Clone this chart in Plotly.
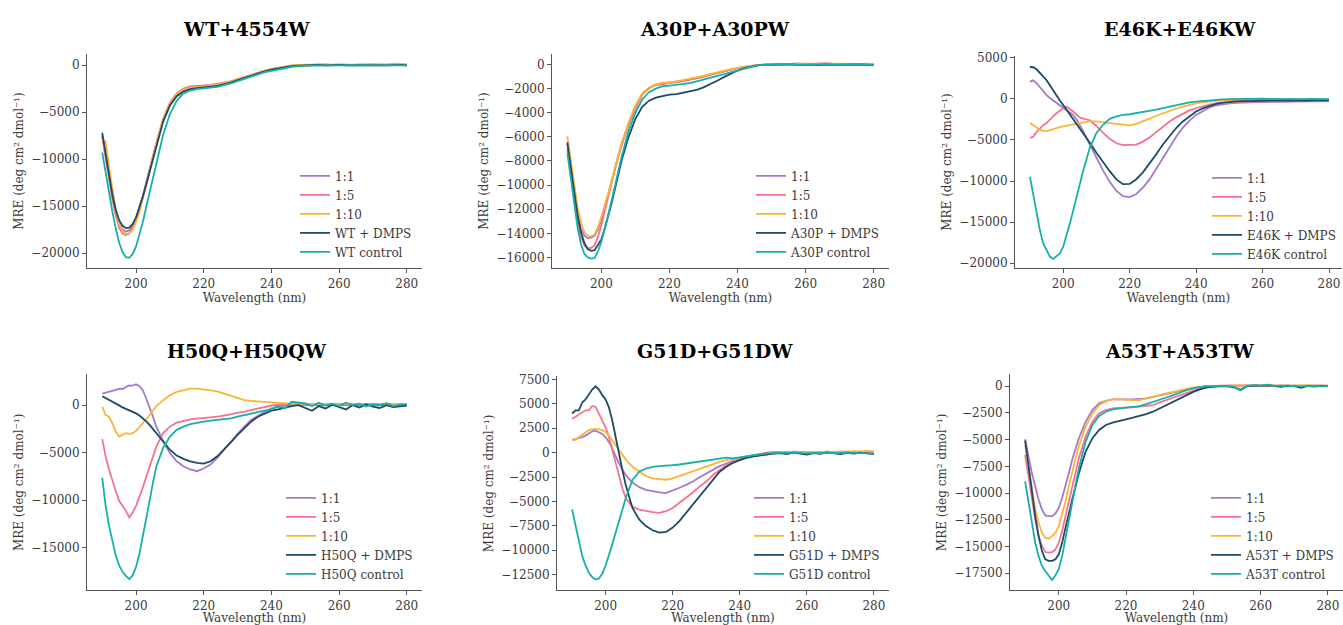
import plotly.graph_objects as go

FIG_W, FIG_H = 1343, 625

# Wavelength grid (nm): 1 nm steps through the far-UV minimum, 2 nm afterwards
WAVELENGTH = [190, 191, 192, 193, 194, 195, 196, 197, 198, 199, 200, 201, 202, 203, 204, 205, 206,
              208, 210, 212, 214, 216, 218, 220, 222, 224, 226, 228, 230, 232, 234, 236, 238, 240,
              242, 244, 246, 248, 250,
              252, 254, 256, 258, 260, 262, 264, 266, 268, 270, 272, 274, 276, 278, 280]

# ---- WT ----
wt_11 = [-7500, -9800, -12000, -14000, -15700, -16900, -17500, -17700, -17600, -17100, -16300, -15200, -13900, -12500, -11100, -9700, -8300,
         -5900, -4200, -3200, -2700, -2450, -2350, -2300, -2220, -2130, -2000, -1820, -1580, -1330, -1080, -840, -640, -470, -320, -190, -90, -40, -10,
         20, -10, 30, 0, 40, 10, -20, 30, 0, 50, 20, -10, 30, 10, 0]
wt_15 = [-7600, -9900, -12200, -14300, -16000, -17300, -17900, -18100, -17900, -17300, -16400, -15300, -14000, -12600, -11100, -9600, -8200,
         -5700, -4000, -3000, -2500, -2250, -2200, -2200, -2100, -2000, -1880, -1700, -1480, -1250, -1020, -800, -600, -430, -280, -150, -60, -10, 20,
         40, 10, 50, 20, 60, 30, 0, 50, 20, 60, 40, 10, 50, 30, 20]
wt_110 = [-7900, -8100, -10800, -13300, -15400, -16900, -17700, -18000, -17900, -17500, -16700, -15600, -14300, -12800, -11300, -9800, -8300,
          -5800, -4100, -3100, -2600, -2400, -2350, -2300, -2200, -2080, -1950, -1760, -1520, -1270, -1020, -780, -580, -400, -250, -120, -20, 40, 60,
          80, 50, 100, 60, 110, 80, 50, 120, 90, 140, 110, 80, 150, 120, 100]
wt_dmps = [-7200, -9500, -11800, -13800, -15400, -16500, -17100, -17350, -17300, -16900, -16200, -15200, -14000, -12700, -11300, -9900, -8500,
           -6000, -4300, -3300, -2800, -2550, -2450, -2400, -2300, -2200, -2050, -1850, -1600, -1350, -1100, -850, -650, -480, -330, -200, -100, -50, -20,
           0, 30, -20, 10, 40, -10, 20, 0, -30, 30, 10, -20, 20, 40, -30]
wt_ctrl = [-9300, -11500, -13600, -15600, -17400, -18900, -19900, -20450, -20500, -20100, -19300, -18100, -16700, -15100, -13500, -11900, -10300,
           -7400, -5200, -3800, -3000, -2700, -2550, -2500, -2400, -2300, -2150, -1950, -1700, -1450, -1200, -950, -750, -600, -450, -300, -180, -100, -60,
           -40, -30, -50, -20, -10, -40, 0, -30, -20, -50, -10, -30, 0, -20, -50]

# ---- A30P ----
a30_11 = [-6600, -8700, -10700, -12400, -13600, -14200, -14400, -14350, -14200, -13700, -12900, -11900, -10800, -9700, -8600, -7600, -6700,
          -5000, -3600, -2500, -1950, -1700, -1550, -1500, -1450, -1350, -1250, -1150, -1000, -850, -700, -550, -420, -300, -200, -110, -50, -10, 10,
          30, 10, 40, 60, 20, 50, 30, 70, 40, 20, 50, 30, 10, 40, 20]
a30_15 = [-7000, -9100, -11200, -13000, -14300, -15000, -15250, -15200, -15000, -14300, -13300, -12200, -11000, -9800, -8600, -7500, -6500,
          -4900, -3600, -2500, -1950, -1700, -1600, -1550, -1480, -1380, -1280, -1160, -1020, -870, -720, -570, -430, -310, -200, -110, -50, -10, 10,
          40, 20, 60, 80, 40, 70, 50, 90, 60, 40, 70, 50, 30, 60, 40]
a30_110 = [-5950, -8000, -10000, -11800, -13100, -13900, -14200, -14250, -14100, -13500, -12600, -11700, -10700, -9600, -8500, -7500, -6600,
           -4800, -3400, -2400, -1900, -1650, -1500, -1500, -1400, -1300, -1200, -1100, -950, -800, -650, -500, -380, -280, -180, -100, -30, 0, 20,
           40, 60, 30, 50, 70, 40, 60, 30, 50, 70, 40, 60, 80, 50, 40]
a30_dmps = [-6450, -8600, -10700, -12500, -13900, -14800, -15300, -15450, -15400, -15000, -14500, -13600, -12600, -11500, -10300, -9100, -7900,
            -6000, -4500, -3500, -3000, -2750, -2600, -2500, -2450, -2350, -2250, -2100, -1900, -1650, -1350, -1050, -750, -500, -300, -160, -70, -30, -10,
            0, -20, 10, -30, 0, -20, -40, 0, -30, -10, -40, -20, 0, -30, -60]
a30_ctrl = [-7300, -9500, -11600, -13500, -14900, -15700, -16000, -16100, -16050, -15500, -14700, -13700, -12500, -11300, -10000, -8800, -7600,
            -5500, -4000, -2900, -2300, -2000, -1800, -1750, -1700, -1650, -1550, -1400, -1250, -1100, -950, -800, -600, -450, -300, -150, -60, -20, 0,
            10, 0, 20, -10, 0, 10, -20, 0, 10, -10, 0, 20, -10, 0, -30]

# ---- E46K ----
e46_11 = [2100, 2250, 1900, 1400, 950, 460, 100, -200, -500, -800, -1140, -1400, -1700, -1950, -2500, -3150, -3900,
          -5560, -7160, -8700, -10100, -11200, -11850, -11950, -11580, -10800, -9800, -8500, -7160, -5800, -4600, -3500, -2650, -1950, -1450, -1050, -800, -650, -540,
          -480, -430, -400, -380, -350, -370, -330, -300, -340, -310, -280, -300, -270, -290, -260]
e46_15 = [-4760, -4600, -4000, -3550, -3200, -2950, -2500, -2100, -1750, -1400, -1140, -940, -1200, -1540, -1900, -2260, -2400,
          -2600, -3300, -4150, -4850, -5400, -5640, -5640, -5560, -5200, -4700, -4050, -3350, -2750, -2250, -1800, -1400, -1140, -900, -700, -560, -470, -420,
          -380, -360, -340, -330, -320, -300, -310, -290, -280, -300, -270, -260, -280, -250, -240]
e46_110 = [-2950, -3200, -3550, -3750, -3900, -3950, -3800, -3650, -3550, -3450, -3350, -3250, -3150, -3050, -3000, -2950, -2850,
           -2700, -2750, -2850, -3000, -3100, -3200, -3230, -3050, -2750, -2400, -2050, -1750, -1450, -1200, -950, -720, -540, -400, -300, -230, -170, -140,
           -120, -100, -110, -90, -100, -80, -90, -70, -100, -80, -60, -90, -70, -80, -60]
e46_dmps = [3880, 3850, 3600, 3200, 2750, 2270, 1650, 1000, 400, -200, -740, -1300, -1850, -2450, -3000, -3550, -4150,
            -5350, -6560, -7700, -8800, -9800, -10380, -10350, -9780, -8950, -7900, -6750, -5560, -4500, -3550, -2750, -2100, -1540, -1150, -850, -600, -450, -340,
            -300, -280, -250, -240, -230, -220, -210, -200, -220, -190, -180, -200, -170, -190, -180]
e46_ctrl = [-9490, -11800, -13990, -16000, -17600, -18500, -19200, -19480, -19100, -18800, -18000, -16700, -15190, -13600, -11980, -10350, -8770,
            -5960, -4150, -3150, -2430, -2140, -1950, -1870, -1750, -1620, -1500, -1320, -1140, -950, -760, -560, -430, -340, -250, -170, -100, -50, -20,
            0, -30, 20, -10, 30, 0, -20, 20, -10, 10, -30, 0, 20, -10, -30]

# ---- H50Q ----
h50_11 = [1220, 1300, 1400, 1490, 1600, 1740, 1700, 1910, 2080, 2050, 2190, 1980, 1560, 700, -170, -1220, -2260,
          -3820, -5030, -5910, -6430, -6770, -6950, -6670, -6250, -5560, -4690, -3820, -3020, -2260, -1560, -1150, -700, -350, -170, -50, 0, 30, 10,
          20, -10, 30, 0, 20, -20, 10, 30, -10, 0, 20, -10, 10, 30, 0]
h50_15 = [-3580, -5380, -6770, -7990, -9030, -10070, -10600, -11120, -11810, -11290, -10600, -9720, -8680, -7530, -6430, -5310, -4340,
          -2950, -2260, -1840, -1630, -1490, -1420, -1390, -1280, -1220, -1110, -970, -800, -700, -520, -350, -170, -40, 20, 50, 70, 80, 90,
          100, 80, 110, 90, 120, 100, 80, 110, 90, 120, 100, 90, 110, 80, 100]
h50_110 = [-170, -1040, -1220, -1910, -2780, -3300, -3130, -2950, -3020, -2950, -2710, -2330, -1910, -1490, -1040, -520, -100,
           520, 1040, 1390, 1560, 1740, 1740, 1670, 1560, 1450, 1220, 1040, 800, 520, 450, 420, 350, 280, 240, 170, 150, 140, 130,
           120, 140, 110, 130, 120, 100, 130, 110, 120, 100, 110, 130, 100, 120, 110]
h50_dmps = [940, 760, 590, 380, 170, -30, -240, -400, -520, -700, -870, -1100, -1390, -1700, -2080, -2500, -2950,
            -3820, -4690, -5310, -5660, -5910, -6080, -6150, -5910, -5380, -4690, -3930, -3130, -2430, -1740, -1220, -870, -590, -460, -240, -100, 0, -300,
            -600, -100, -350, 50, -200, -450, 0, -250, 100, -150, -300, 0, -200, -100, -50]
h50_ctrl = [-7640, -10600, -12680, -14420, -15810, -16850, -17540, -17960, -18310, -17890, -17020, -15630, -13890, -11980, -10070, -8160, -6430,
            -4510, -3300, -2600, -2260, -2010, -1840, -1740, -1630, -1560, -1490, -1390, -1220, -1040, -870, -730, -590, -460, -100, -350, 350, 230, 170,
            -100, 250, -50, 150, -100, 250, 0, 150, -150, 100, 0, 200, -100, 50, 100]

# ---- G51D ----
g51_11 = [1310, 1410, 1450, 1570, 1740, 1980, 2180, 2240, 2080, 1910, 1570, 1070, 400, -380, -1120, -1720, -2300,
          -3070, -3540, -3810, -3980, -4080, -4150, -3900, -3600, -3310, -2970, -2530, -2130, -1720, -1390, -1120, -850, -720, -520, -390, -280, -170, -100,
          -50, 0, -80, 20, -40, 0, 30, -30, 10, -20, 40, 0, 20, -10, -60]
g51_15 = [3430, 3660, 3930, 4100, 4330, 4330, 4770, 4670, 3930, 3260, 2580, 1570, 230, -1120, -2470, -3650, -4660,
          -5560, -5830, -6000, -6100, -6170, -6000, -5670, -5160, -4660, -4080, -3480, -2970, -2300, -1790, -1290, -950, -620, -450, -280, -110, 0, 50,
          80, 30, 100, 60, 20, 80, 40, 100, 60, 30, 90, 50, 20, 60, 40]
g51_110 = [1240, 1310, 1570, 1840, 2080, 2310, 2410, 2410, 2410, 2310, 2080, 1740, 1240, 730, 230, -280, -720,
           -1460, -1960, -2400, -2640, -2730, -2780, -2640, -2400, -2130, -1860, -1630, -1390, -1190, -950, -780, -620, -520, -390, -280, -170, -110, -50,
           0, 40, 20, 60, 30, 80, 50, 100, 70, 120, 90, 140, 110, 160, 120]
g51_dmps = [4000, 4330, 4330, 5110, 5440, 5950, 6450, 6790, 6450, 5880, 5440, 4600, 3260, 1570, -280, -1790, -3310,
            -5670, -6840, -7520, -7950, -8190, -8120, -7680, -7010, -6170, -5330, -4490, -3650, -2800, -1960, -1460, -1050, -780, -520, -390, -280, -150, -100,
            -50, -150, 0, -100, -200, -50, -120, 20, -80, -150, -30, -100, 0, -60, -150]
g51_ctrl = [-5830, -7520, -9200, -10550, -11560, -12300, -12740, -13000, -12900, -12400, -11560, -10550, -9370, -8190, -7010, -5830, -4660,
            -2800, -1960, -1630, -1460, -1390, -1360, -1290, -1220, -1120, -1050, -950, -850, -720, -650, -520, -600, -500, -400, -300, -150, -80, -50,
            -20, -60, 0, -40, -80, -20, -50, 0, -70, -30, 10, -40, -60, -20, -100]

# ---- A53T ----
a53_11 = [-4970, -6580, -8130, -9370, -10610, -11540, -12100, -12160, -12160, -11920, -11390, -10460, -9370, -8130, -6890, -5800, -4870,
          -3320, -2230, -1610, -1370, -1240, -1210, -1240, -1240, -1210, -1150, -1000, -840, -680, -530, -430, -300, -180, -60, 0, 20, 40, 30,
          50, 30, 60, 40, 70, 50, 30, 60, 40, 20, 50, 30, 60, 40, 30]
a53_15 = [-6420, -8440, -10610, -12480, -14030, -14960, -15520, -15580, -15520, -15270, -14650, -13560, -12160, -10770, -9370, -7980, -6730,
          -4720, -3320, -2540, -2230, -2080, -2020, -1990, -1990, -1920, -1860, -1770, -1520, -1300, -1060, -840, -620, -370, -210, -100, -20, 20, 40,
          60, 40, 70, 50, 80, 60, 40, 70, 50, 30, 60, 40, 70, 50, 40]
a53_110 = [-5490, -7510, -9680, -11540, -12780, -13710, -14180, -14270, -14030, -13710, -13100, -12010, -10770, -9370, -7980, -6730, -5590,
           -3790, -2540, -1770, -1400, -1240, -1240, -1300, -1300, -1300, -1180, -1000, -810, -680, -530, -370, -250, -120, -60, 0, 30, 50, 40,
           60, 50, 70, 40, 60, 80, 50, 70, 40, 60, 50, 70, 40, 60, 50]
a53_dmps = [-5090, -7510, -9990, -12160, -14030, -15420, -16200, -16350, -16350, -16200, -15730, -14650, -13250, -11850, -10610, -9370, -8130,
            -6120, -4870, -4100, -3630, -3420, -3230, -3100, -2950, -2790, -2610, -2390, -2080, -1770, -1460, -1150, -840, -530, -300, -120, -50, -20, 0,
            -100, -350, 0, 50, 20, 80, 30, -60, 40, 10, -150, 20, -40, 30, 0]
a53_ctrl = [-8910, -10920, -12780, -14650, -15890, -16820, -17290, -17750, -18130, -17690, -17130, -15890, -14340, -12630, -10920, -9220, -7660,
            -5190, -3630, -2790, -2390, -2170, -2080, -1990, -1920, -1860, -1680, -1490, -1300, -1060, -840, -590, -370, -210, -60, 0, 20, 10, 0,
            -50, -400, 20, 100, 40, 150, 30, 60, 10, 40, -20, 30, 0, 20, 10]

PROTEINS = ["WT", "A30P", "E46K", "H50Q", "G51D", "A53T"]
PANEL_TITLES = ["WT+4554W", "A30P+A30PW", "E46K+E46KW", "H50Q+H50QW", "G51D+G51DW", "A53T+A53TW"]
RATIO_LABELS = ["1:1", "1:5", "1:10"]
SPECTRA = {
    "WT": [wt_11, wt_15, wt_110, wt_dmps, wt_ctrl],
    "A30P": [a30_11, a30_15, a30_110, a30_dmps, a30_ctrl],
    "E46K": [e46_11, e46_15, e46_110, e46_dmps, e46_ctrl],
    "H50Q": [h50_11, h50_15, h50_110, h50_dmps, h50_ctrl],
    "G51D": [g51_11, g51_15, g51_110, g51_dmps, g51_ctrl],
    "A53T": [a53_11, a53_15, a53_110, a53_dmps, a53_ctrl],
}
X_TICKS = [200, 220, 240, 260, 280]
Y_TICKS = {
    "WT": [-20000, -15000, -10000, -5000, 0],
    "A30P": [-16000, -14000, -12000, -10000, -8000, -6000, -4000, -2000, 0],
    "E46K": [-20000, -15000, -10000, -5000, 0, 5000],
    "H50Q": [-15000, -10000, -5000, 0],
    "G51D": [-12500, -10000, -7500, -5000, -2500, 0, 2500, 5000, 7500],
    "A53T": [-17500, -15000, -12500, -10000, -7500, -5000, -2500, 0],
}
X_LABEL = "Wavelength (nm)"
Y_LABEL = "MRE (deg cm\u00b2 dmol\u207b\u00b9)"

COLORS = ["#a578c9", "#f7718d", "#fbb433", "#1b4b66", "#16b0aa"]
SERIF = "DejaVu Serif"
INK = "#3a3a3a"

# Subplot boxes in pixels: (left, right, top, bottom), axis ranges, and text anchors
BOXES = [
    dict(px=(87, 422, 50, 267), xr=[185.5, 284.5], yr=[-21640, 1240], title=(247, 25), leg=(295, 159)),
    dict(px=(552, 889, 50, 267), xr=[185.5, 284.5], yr=[-16910, 910], title=(715, 25), leg=(751, 159)),
    dict(px=(1015, 1342, 52, 267), xr=[185.5, 283.9], yr=[-20640, 5280], title=(1180, 25), leg=(1207, 161)),
    dict(px=(87, 422, 374, 592), xr=[185.5, 284.5], yr=[-19480, 3230], title=(247, 350), leg=(281, 484)),
    dict(px=(557, 889, 376, 592), xr=[185.5, 284.5], yr=[-14100, 7800], title=(715, 350), leg=(749, 484)),
    dict(px=(1010, 1343, 374, 592), xr=[185.5, 284.5], yr=[-19100, 1100], title=(1180, 350), leg=(1206, 484)),
]


def fx(px):
    return px / FIG_W


def fy(py):
    return 1 - py / FIG_H


def minus(v):
    return str(v).replace("-", "\u2212")


fig = go.Figure()
layout = dict(
    width=FIG_W, height=FIG_H,
    margin=dict(l=0, r=0, t=0, b=0),
    paper_bgcolor="white", plot_bgcolor="white",
    font=dict(family=SERIF, size=12, color=INK),
    showlegend=True,
)
annotations = []

for i, (prot, title, box) in enumerate(zip(PROTEINS, PANEL_TITLES, BOXES)):
    n = i + 1
    sfx = "" if n == 1 else str(n)
    legend_id = "legend" + sfx
    names = RATIO_LABELS + [f"{prot} + DMPS", f"{prot} control"]
    for series, name, color in zip(SPECTRA[prot], names, COLORS):
        assert len(series) == len(WAVELENGTH), (prot, name)
        fig.add_trace(go.Scatter(
            x=WAVELENGTH, y=series, mode="lines", name=name,
            line=dict(color=color, width=1.8),
            xaxis="x" + sfx, yaxis="y" + sfx, legend=legend_id,
            hoverinfo="skip",
        ))

    left, right, top, bottom = box["px"]
    axis_common = dict(
        showgrid=False, zeroline=False, showline=True, linecolor="#555555", linewidth=1,
        ticks="outside", ticklen=4, tickwidth=1, tickcolor="#555555",
        tickfont=dict(family=SERIF, size=12, color=INK), fixedrange=True,
    )
    layout["xaxis" + sfx] = dict(
        axis_common, domain=[fx(left), fx(right)], range=box["xr"], anchor="y" + sfx,
        tickmode="array", tickvals=X_TICKS, ticktext=[str(t) for t in X_TICKS],
        title=dict(text=X_LABEL, standoff=2, font=dict(family=SERIF, size=12, color=INK)),
    )
    yt = Y_TICKS[prot]
    layout["yaxis" + sfx] = dict(
        axis_common, domain=[fy(bottom), fy(top)], range=box["yr"], anchor="x" + sfx,
        tickmode="array", tickvals=yt, ticktext=[minus(t) for t in yt],
        title=dict(text=Y_LABEL, standoff=5, font=dict(family=SERIF, size=12, color=INK)),
    )
    lx, ly = box["leg"]
    layout[legend_id] = dict(
        x=fx(lx), y=fy(ly), xanchor="left", yanchor="top",
        bgcolor="rgba(0,0,0,0)", borderwidth=0,
        font=dict(family=SERIF, size=12, color=INK),
        traceorder="normal", itemwidth=30,
    )

    tx, ty = box["title"]
    annotations.append(dict(
        text=f"<b>{title}</b>", x=fx(tx), y=fy(ty), xref="paper", yref="paper",
        xanchor="center", yanchor="middle", showarrow=False,
        font=dict(family=SERIF, size=19, color="black"),
    ))

layout["annotations"] = annotations
fig.update_layout(**layout)
fig.write_html("out.html")
